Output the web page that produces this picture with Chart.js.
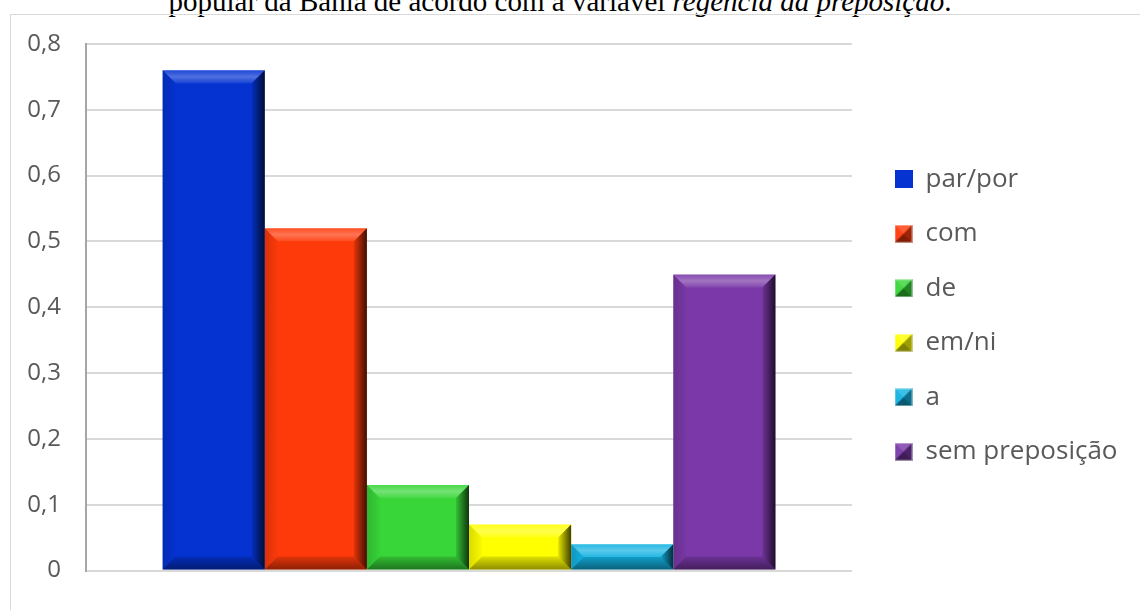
<!DOCTYPE html>
<html lang="pt">
<head>
<meta charset="utf-8">
<title>regência da preposição</title>
<script src="https://cdn.jsdelivr.net/npm/chart.js@4/dist/chart.umd.min.js"></script>
<style>
  html, body { margin: 0; padding: 0; background: #fff; overflow: hidden; }
  #page { position: relative; width: 1140px; height: 610px; overflow: hidden; }
  #caption {
    position: absolute; left: 0; top: -13px; width: 1120px;
    text-align: center; font-family: "Liberation Serif", "Times New Roman", serif;
    font-size: 29px; line-height: 29px; color: #000; white-space: nowrap;
  }
  #frame {
    position: absolute; left: 10px; top: 14px; width: 1140px; height: 620px;
    border: 1px solid #d9d9d9;
  }
  #chart { position: absolute; left: 0; top: 0; }
</style>
</head>
<body>
<div id="page">
  <div id="caption">popular da Bahia de acordo com a variável <i>regência da preposição</i>.</div>
  <div id="frame"></div>
  <canvas id="chart" width="1140" height="610"></canvas>
</div>
<script>
// valores
const categories = ['par/por', 'com', 'de', 'em/ni', 'a', 'sem preposição'];
const values = [0.76, 0.52, 0.13, 0.07, 0.04, 0.45];
const barColors = ['#0433d2', '#ff3a0a', '#38d638', '#ffff00', '#12b2e2', '#7a38a8'];
const yMin = 0;
const yMax = 0.8;
const yStep = 0.1;

const textColor = '#595959';

// small pyramid icon for the legend (the first one is flat)
function makeIcon(color, flat) {
  const c = document.createElement('canvas');
  c.width = 18; c.height = 18;
  const g = c.getContext('2d');
  g.fillStyle = color;
  g.fillRect(0, 0, 18, 18);
  if (flat) return c;
  const tri = function(pts, fill) {
    g.beginPath();
    g.moveTo(pts[0][0], pts[0][1]);
    g.lineTo(pts[1][0], pts[1][1]);
    g.lineTo(9, 9);
    g.closePath();
    g.fillStyle = fill;
    g.fill();
  };
  tri([[0, 0], [18, 0]], 'rgba(255,255,255,0.18)');
  tri([[0, 0], [0, 18]], 'rgba(255,255,255,0.05)');
  tri([[18, 0], [18, 18]], 'rgba(0,0,0,0.38)');
  tri([[0, 18], [18, 18]], 'rgba(0,0,0,0.5)');
  g.strokeStyle = 'rgba(255,255,255,0.5)';
  g.lineWidth = 1;
  g.strokeRect(0.5, 0.5, 17, 17);
  return c;
}
const icons = barColors.map(function(c, i) { return makeIcon(c, i === 0); });

function poly(ctx, pts, fill) {
  ctx.beginPath();
  ctx.moveTo(pts[0][0], pts[0][1]);
  for (let i = 1; i < pts.length; i++) ctx.lineTo(pts[i][0], pts[i][1]);
  ctx.closePath();
  ctx.fillStyle = fill;
  ctx.fill();
}

// bevelled look on top of every bar
const bevelPlugin = {
  id: 'bevel',
  afterDatasetsDraw(chart) {
    const ctx = chart.ctx;
    chart.data.datasets.forEach(function(ds, i) {
      chart.getDatasetMeta(i).data.forEach(function(bar) {
        const p = bar.getProps(['x', 'y', 'base', 'width'], true);
        const L = p.x - p.width / 2, R = p.x + p.width / 2;
        const T = Math.min(p.y, p.base), B = Math.max(p.y, p.base);
        const b = Math.min(13, (B - T) / 2, (R - L) / 2);
        ctx.save();
        const gt = ctx.createLinearGradient(0, T, 0, T + b);
        gt.addColorStop(0, 'rgba(255,255,255,0.10)');
        gt.addColorStop(0.5, 'rgba(255,255,255,0.30)');
        gt.addColorStop(1, 'rgba(255,255,255,0.08)');
        poly(ctx, [[L, T], [R, T], [R - b, T + b], [L + b, T + b]], gt);
        const gl = ctx.createLinearGradient(L, 0, L + b, 0);
        gl.addColorStop(0, 'rgba(0,0,0,0.15)');
        gl.addColorStop(1, 'rgba(0,0,0,0.02)');
        poly(ctx, [[L, T], [L + b, T + b], [L + b, B - b], [L, B]], gl);
        const gr = ctx.createLinearGradient(R - b, 0, R, 0);
        gr.addColorStop(0, 'rgba(0,0,0,0.10)');
        gr.addColorStop(1, 'rgba(0,0,0,0.75)');
        poly(ctx, [[R, T], [R, B], [R - b, B - b], [R - b, T + b]], gr);
        const gb = ctx.createLinearGradient(0, B - b, 0, B);
        gb.addColorStop(0, 'rgba(0,0,0,0.12)');
        gb.addColorStop(1, 'rgba(0,0,0,0.45)');
        poly(ctx, [[L, B], [R, B], [R - b, B - b], [L + b, B - b]], gb);
        ctx.restore();
      });
    });
  }
};

// fixed legend width so the plot ends where the reference does
const legendPlace = {
  id: 'legendPlace',
  beforeInit(chart) {
    const fit = chart.legend.fit;
    chart.legend.fit = function() {
      fit.call(this);
      this.width = 288;
    };
  },
  afterLayout(chart) {
    const lg = chart.legend;
    const w = lg.right - lg.left;
    lg.left += 14;
    lg.right = lg.left + w;
  }
};

const datasets = categories.map(function(name, i) {
  return {
    label: name,
    data: [values[i]],
    backgroundColor: barColors[i],
    borderWidth: 0,
    categoryPercentage: 0.8,
    barPercentage: 1.0
  };
});

new Chart(document.getElementById('chart'), {
  type: 'bar',
  data: { labels: [''], datasets: datasets },
  options: {
    responsive: false,
    animation: false,
    layout: { padding: { left: 20, right: 0, top: 44, bottom: 23 } },
    scales: {
      x: { display: false },
      y: {
        min: yMin,
        max: yMax,
        afterFit: function(scale) { scale.width = 66; },
        border: { display: true, color: '#a6a6a6', width: 2 },
        grid: { color: '#d9d9d9', lineWidth: 2, drawTicks: false },
        ticks: {
          stepSize: yStep,
          padding: 25,
          color: textColor,
          font: { family: '"Open Sans", sans-serif', size: 24 },
          callback: function(v) { return v === 0 ? '0' : v.toFixed(1).replace('.', ','); }
        }
      }
    },
    plugins: {
      tooltip: { enabled: false },
      legend: {
        position: 'right',
        labels: {
          usePointStyle: true,
          boxWidth: 18,
          boxHeight: 18,
          padding: 28.5,
          color: textColor,
          font: { family: '"Open Sans", sans-serif', size: 26 },
          generateLabels: function(chart) {
            const items = Chart.defaults.plugins.legend.labels.generateLabels(chart);
            items.forEach(function(it, i) { it.pointStyle = icons[i]; });
            return items;
          }
        }
      }
    }
  },
  plugins: [bevelPlugin, legendPlace]
});
</script>
</body>
</html>
